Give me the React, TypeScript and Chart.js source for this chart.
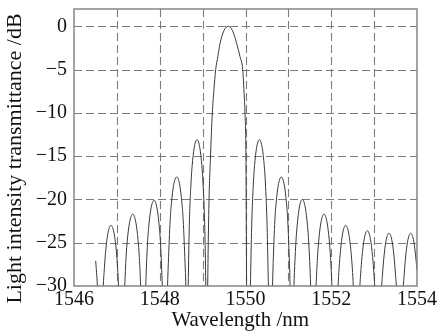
import React, { useEffect, useRef } from "react";
import { Chart, registerables } from "chart.js";

Chart.register(...registerables);

// Wavelength (nm)
const wavelength = [
  1546.506, 1546.545, 1546.62,
  1546.683, 1546.708, 1546.738, 1546.788, 1546.863, 1546.938, 1546.988, 1547.018, 1547.038, 1547.116,
  1547.184, 1547.214, 1547.244, 1547.294, 1547.369, 1547.444, 1547.494, 1547.524, 1547.554, 1547.618,
  1547.673, 1547.714, 1547.744, 1547.793, 1547.866, 1547.939, 1547.988, 1548.018, 1548.06, 1548.13,
  1548.182, 1548.2, 1548.243, 1548.273, 1548.322, 1548.395, 1548.468, 1548.517, 1548.547, 1548.59, 1548.608, 1548.636,
  1548.664, 1548.689, 1548.729, 1548.756, 1548.801, 1548.869, 1548.937, 1548.982, 1549.009, 1549.049, 1549.074, 1549.096,
  1549.118, 1549.145, 1549.184, 1549.226, 1549.261, 1549.305, 1549.354, 1549.405, 1549.498, 1549.599,
  1549.697, 1549.795, 1549.872, 1549.935, 1549.965, 1549.988, 1550.01, 1550.026, 1550.066,
  1550.114, 1550.144, 1550.184, 1550.211, 1550.256, 1550.324, 1550.392, 1550.437, 1550.464, 1550.504, 1550.534, 1550.58,
  1550.63, 1550.645, 1550.685, 1550.715, 1550.763, 1550.835, 1550.907, 1550.955, 1550.985, 1551.025, 1551.04, 1551.08,
  1551.13, 1551.175, 1551.205, 1551.253, 1551.325, 1551.397, 1551.445, 1551.475, 1551.52, 1551.578,
  1551.646, 1551.679, 1551.709, 1551.758, 1551.831, 1551.904, 1551.953, 1551.983, 1552.016, 1552.084,
  1552.159, 1552.182, 1552.214, 1552.263, 1552.337, 1552.411, 1552.46, 1552.492, 1552.515, 1552.589,
  1552.668, 1552.686, 1552.718, 1552.767, 1552.841, 1552.915, 1552.964, 1552.996, 1553.014, 1553.094,
  1553.175, 1553.192, 1553.224, 1553.273, 1553.347, 1553.421, 1553.47, 1553.502, 1553.519, 1553.6,
  1553.681, 1553.698, 1553.73, 1553.779, 1553.853, 1553.927, 1553.976, 1554.0,
];

// Transmittance (dB)
const transmittance = [
  -27.1, -30, -40,
  -30, -28, -26, -24, -23.0, -24, -26, -28, -30, -40,
  -30, -26.7, -24.7, -22.7, -21.7, -22.7, -24.7, -26.7, -30, -40,
  -30, -25.1, -23.1, -21.1, -20.1, -21.1, -23.1, -25.1, -30, -40,
  -30, -27.4, -22.4, -20.4, -18.4, -17.4, -18.4, -20.4, -22.4, -27.4, -30, -40,
  -30, -23.1, -18.1, -16.1, -14.1, -13.1, -14.1, -16.1, -18.1, -23.1, -30, -40,
  -30, -21, -15, -10, -7.5, -5, -3.5, -2, -0.5, 0,
  -0.5, -2, -3.5, -5, -7.5, -10, -15, -30, -40,
  -30, -23.1, -18.1, -16.1, -14.1, -13.1, -14.1, -16.1, -18.1, -23.1, -30, -40,
  -30, -27.4, -22.4, -20.4, -18.4, -17.4, -18.4, -20.4, -22.4, -27.4, -30, -40,
  -30, -25, -23, -21, -20, -21, -23, -25, -30, -40,
  -30, -26.7, -24.7, -22.7, -21.7, -22.7, -24.7, -26.7, -30, -40,
  -30, -28, -26, -24, -23, -24, -26, -28, -30, -40,
  -30, -28.6, -26.6, -24.6, -23.6, -24.6, -26.6, -28.6, -30, -40,
  -30, -28.9, -26.9, -24.9, -23.9, -24.9, -26.9, -28.9, -30, -40,
  -30, -28.9, -26.9, -24.9, -23.9, -24.9, -26.9, -28.2,
];

const xTickValues = [1546, 1548, 1550, 1552, 1554];
const xTickLabels = ["1546", "1548", "1550", "1552", "1554"];
const yTickValues = [-30, -25, -20, -15, -10, -5, 0];
const yTickLabels = ["\u221230", "\u221225", "\u221220", "\u221215", "\u221210", "\u22125", "0"];

const FONT = "'Liberation Serif', 'Times New Roman', serif";

const gridPlugin = {
  id: "dashedGrid",
  beforeDatasetsDraw(chart: any) {
    const { ctx, chartArea, scales } = chart;
    const { left, top, right, bottom } = chartArea;
    ctx.save();
    ctx.strokeStyle = "#7c7c7c";
    ctx.lineWidth = 1.1;
    ctx.setLineDash([8, 4]);
    for (const t of scales.x.ticks) {
      const px = Math.round(scales.x.getPixelForValue(t.value)) + 0.5;
      if (px <= left + 1 || px >= right - 1) continue;
      ctx.beginPath();
      ctx.lineDashOffset = 0;
      ctx.moveTo(px, top);
      ctx.lineTo(px, bottom);
      ctx.stroke();
    }
    for (const t of scales.y.ticks) {
      const py = Math.round(scales.y.getPixelForValue(t.value)) + 0.5;
      if (py <= top + 1 || py >= bottom - 1) continue;
      ctx.beginPath();
      ctx.moveTo(left, py);
      ctx.lineTo(right, py);
      ctx.stroke();
    }
    ctx.restore();
  },
  afterDatasetsDraw(chart: any) {
    const { ctx, chartArea } = chart;
    const { left, top, right, bottom } = chartArea;
    ctx.save();
    ctx.strokeStyle = "#858585";
    ctx.lineWidth = 1.5;
    ctx.setLineDash([]);
    ctx.strokeRect(left, top, right - left, bottom - top);
    ctx.restore();
  },
};

export default function App() {
  const ref = useRef<HTMLCanvasElement | null>(null);

  useEffect(() => {
    if (!ref.current) return;
    const data = wavelength.map((x, i) => ({ x, y: transmittance[i] }));
    const chart = new Chart(ref.current, {
      type: "line",
      data: {
        datasets: [
          {
            data,
            borderColor: "#3a3a3a",
            borderWidth: 1,
            pointRadius: 0,
            cubicInterpolationMode: "monotone",
            fill: false,
            clip: 0,
          },
        ],
      },
      options: {
        animation: false,
        responsive: false,
        devicePixelRatio: 1,
        layout: { padding: { left: 0, top: 9, right: 22, bottom: 0 } },
        plugins: {
          legend: { display: false },
          tooltip: { enabled: false },
        },
        scales: {
          x: {
            type: "linear",
            min: 1546,
            max: 1554,
            afterFit: (s: any) => {
              s.height = 50;
              s.paddingLeft = 0;
              s.paddingRight = 0;
            },
            ticks: {
              stepSize: 1,
              autoSkip: false,
              maxRotation: 0,
              padding: 2,
              color: "#111",
              font: { family: FONT, size: 20 },
              callback: (v: any) => {
                const i = xTickValues.indexOf(Number(v));
                return i >= 0 ? xTickLabels[i] : "";
              },
            },
            grid: { display: false, drawTicks: false },
            border: { display: false },
            title: {
              display: true,
              text: "Wavelength /nm\u00a0\u00a0",
              color: "#111",
              font: { family: FONT, size: 21 },
              padding: { top: 3, bottom: 3 },
            },
          },
          y: {
            type: "linear",
            min: -30,
            max: 2,
            afterFit: (s: any) => {
              s.width = 74;
              s.paddingTop = 0;
              s.paddingBottom = 0;
            },
            ticks: {
              stepSize: 5,
              includeBounds: false,
              padding: 7,
              color: "#111",
              font: { family: FONT, size: 20 },
              callback: (v: any) => {
                const i = yTickValues.indexOf(Number(v));
                return i >= 0 ? yTickLabels[i] : "";
              },
            },
            grid: { display: false, drawTicks: false },
            border: { display: false },
            title: {
              display: true,
              text: "Light intensity transmittance /dB\u00a0\u00a0\u00a0\u00a0",
              color: "#111",
              font: { family: FONT, size: 22 },
              padding: { top: 2, bottom: 2 },
            },
          },
        },
      },
      plugins: [gridPlugin],
    });
    return () => chart.destroy();
  }, []);

  return (
    <div style={{ position: "fixed", left: 0, top: 0, width: 439, height: 336, background: "#fff" }}>
      <canvas ref={ref} width={439} height={336} style={{ display: "block" }} />
    </div>
  );
}
